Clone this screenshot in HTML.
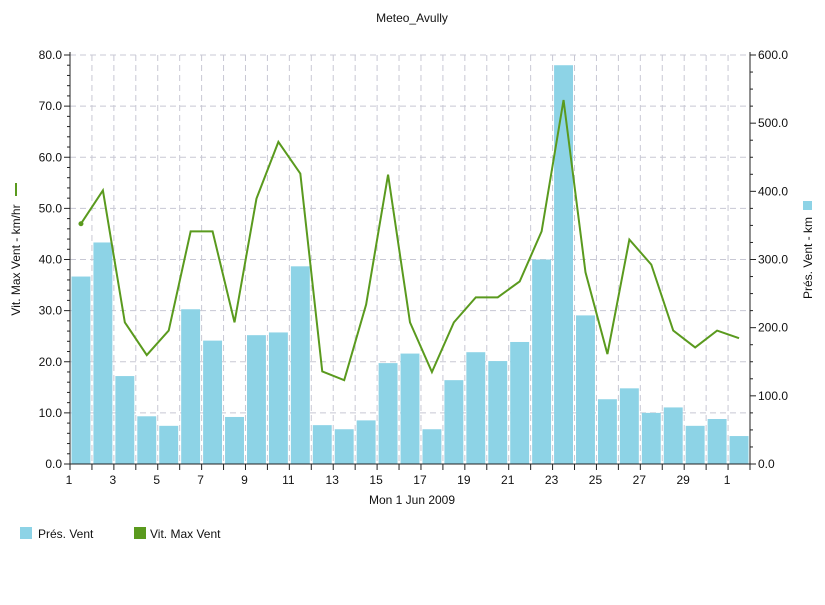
<!DOCTYPE html>
<html><head><meta charset="utf-8"><style>
body{margin:0;background:#fff;font-family:"Liberation Sans",sans-serif}
svg text{font-family:"Liberation Sans",sans-serif;fill:#111}
</style></head><body>
<svg id="c" width="825" height="600" xmlns="http://www.w3.org/2000/svg">
<text x="412" y="22" font-size="12" text-anchor="middle">Meteo_Avully</text>
<g id="grid"></g><g id="bars"></g><g id="line"></g><g id="axes"></g>
<text x="412" y="504" font-size="12" text-anchor="middle">Mon 1 Jun 2009</text>
<text transform="translate(20,260) rotate(-90)" font-size="12" text-anchor="middle">Vit. Max Vent - km/hr</text>
<line x1="16" y1="183" x2="16" y2="196" stroke="#5a9a1e" stroke-width="2"/>
<text transform="translate(812,258) rotate(-90)" font-size="12" text-anchor="middle">Prés. Vent - km</text>
<rect x="803" y="201" width="9" height="9" fill="#8dd3e6"/>
<g><rect x="20" y="527" width="12" height="12" fill="#8dd3e6"/><text x="38" y="538" font-size="12">Prés. Vent</text></g>
<g><rect x="134" y="527" width="12" height="12" fill="#5a9a1e"/><text x="150" y="538" font-size="12">Vit. Max Vent</text></g>
</svg>
<script>
const days=[1,2,3,4,5,6,7,8,9,10,11,12,13,14,15,16,17,18,19,20,21,22,23,24,25,26,27,28,29,30,1];
const presVent=[275,325,129,70,56,227,181,69,189,193,290,57,51,64,148,162,51,123,164,151,179,300,585,218,95,111,75,83,56,66,41];
const vitMax=[47,53.5,27.7,21.3,26.1,45.5,45.5,27.7,51.9,63,56.8,18.1,16.4,31.2,56.6,27.7,18,27.7,32.6,32.6,35.7,45.5,71.2,37.5,21.5,43.9,39,26.1,22.8,26.1,24.6];
const leftTicks=[0,10,20,30,40,50,60,70,80];
const rightTicks=[0,100,200,300,400,500,600];
const X0=70,X1=750,Y0=464,Y1=55,N=days.length,bw=(X1-X0)/N;
const yl=v=>Y0-(v/80)*(Y0-Y1), yr=v=>Y0-(v/600)*(Y0-Y1), xc=i=>X0+bw*(i+0.5);
const NS="http://www.w3.org/2000/svg";
function mk(p,t,a){const e=document.createElementNS(NS,t);for(const k in a)e.setAttribute(k,a[k]);document.getElementById(p).appendChild(e);return e;}
leftTicks.forEach(v=>{if(v>0){const e=mk('grid','line',{x1:X0,x2:X1,y1:yl(v),y2:yl(v),stroke:'#c8c8d4','stroke-dasharray':'6,4'});

}});
for(let i=1;i<=N;i++){const x=X0+bw*i;const e=mk('grid','line',{x1:x,x2:x,y1:Y1,y2:Y0,stroke:'#c8c8d4','stroke-dasharray':'6,4'});

}
presVent.forEach((v,i)=>{const e=mk('bars','rect',{x:X0+bw*i+1.5,y:yr(v),width:bw-3,height:Y0-yr(v),fill:'#8dd3e6'});

});
const pl=mk('line','polyline',{points:vitMax.map((v,i)=>xc(i)+','+yl(v)).join(' '),fill:'none',stroke:'#5a9a1e','stroke-width':2});


const dot=mk('line','circle',{cx:xc(0),cy:yl(vitMax[0]),r:2.5,fill:'#5a9a1e'});


mk('axes','line',{x1:X0,x2:X0,y1:Y1-3,y2:Y0,stroke:'#222'});
mk('axes','line',{x1:X1,x2:X1,y1:Y1-3,y2:Y0,stroke:'#222'});
mk('axes','line',{x1:X0-5,x2:X1+5,y1:Y0,y2:Y0,stroke:'#222'});
for(let v=0;v<=80;v+=2){mk('axes','line',{x1:X0-(v%10?3:6),x2:X0,y1:yl(v),y2:yl(v),stroke:'#222'});}
for(let v=0;v<=600;v+=25){mk('axes','line',{x1:X1,x2:X1+(v%100?3:6),y1:yr(v),y2:yr(v),stroke:'#222'});}
leftTicks.forEach(v=>{const t=mk('axes','text',{x:X0-8,y:yl(v)+4,'font-size':12,'text-anchor':'end'});t.textContent=v.toFixed(1);

});
rightTicks.forEach(v=>{const t=mk('axes','text',{x:X1+8,y:yr(v)+4,'font-size':12});t.textContent=v.toFixed(1);

});
for(let i=0;i<=N;i++){const x=X0+bw*i;mk('axes','line',{x1:x,x2:x,y1:Y0,y2:Y0+6,stroke:'#222'});
if(i%2===0&&i<N){const t=mk('axes','text',{x:x-1,y:Y0+20,'font-size':12,'text-anchor':'middle'});t.textContent=days[i];

}}
</script>
</body></html>
